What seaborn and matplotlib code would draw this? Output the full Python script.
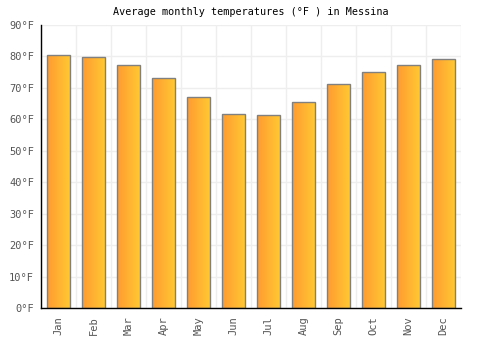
import numpy as np
import pandas as pd
import matplotlib
matplotlib.use("Agg")
import matplotlib.pyplot as plt
import seaborn as sns
from matplotlib.colors import LinearSegmentedColormap

months = ["Jan", "Feb", "Mar", "Apr", "May", "Jun", "Jul", "Aug", "Sep", "Oct", "Nov", "Dec"]
temps_f = [80.6, 79.7, 77.4, 73.3, 67.0, 61.6, 61.3, 65.4, 71.1, 74.9, 77.4, 79.3]
yticks = [0, 10, 20, 30, 40, 50, 60, 70, 80, 90]
ytick_labels = [f"{v}°F" for v in yticks]
title = "Average monthly temperatures (°F ) in Messina"

sns.set_theme(style="white")
plt.rcParams["font.family"] = ["DejaVu Sans Mono", "DejaVu Sans"]

df = pd.DataFrame({"month": months, "temp": temps_f})

fig = plt.figure(figsize=(5, 3.5), dpi=100)
ax = fig.add_axes([0.082, 0.12, 0.84, 0.8086])

sns.barplot(data=df, x="month", y="temp", ax=ax, color="#FFB030",
            width=0.67, edgecolor="#808080", linewidth=1.0, zorder=3)

ax.set_ylim(0, 90)
ax.set_xlim(-0.5, len(months) - 0.5)
ax.set_yticks(yticks)
ax.set_yticklabels(ytick_labels)
ax.set_xlabel("")
ax.set_ylabel("")

for y in yticks:
    ax.axhline(y, color="#eeeeee", linewidth=1, zorder=0)
for i in range(len(months) + 1):
    ax.axvline(i - 0.5, color="#eeeeee", linewidth=1, zorder=0)

cmap = LinearSegmentedColormap.from_list("og", ["#FF9A30", "#FFCB33"])
grad = np.linspace(0, 1, 256).reshape(1, -1)
for patch in ax.patches:
    x0, y0 = patch.get_x(), patch.get_y()
    w, h = patch.get_width(), patch.get_height()
    patch.set_facecolor("none")
    im = ax.imshow(grad, cmap=cmap, aspect="auto", extent=[x0, x0 + w, y0, y0 + h],
                   zorder=2.5, interpolation="bilinear")
    im.set_clip_path(patch)
ax.set_xlim(-0.5, len(months) - 0.5)
ax.set_ylim(0, 90)

for s in ["top", "right"]:
    ax.spines[s].set_visible(False)
for s in ["left", "bottom"]:
    ax.spines[s].set_color("black")
    ax.spines[s].set_linewidth(1.0)
    ax.spines[s].set_zorder(4)

ax.tick_params(axis="x", labelrotation=90, labelsize=7.5, colors="#555555", length=0, pad=6)
ax.tick_params(axis="y", labelsize=7.5, colors="#555555", length=0, pad=5)
ax.set_title(title, fontsize=7.3, color="black", pad=7)

fig.savefig("out.png", dpi=100)
